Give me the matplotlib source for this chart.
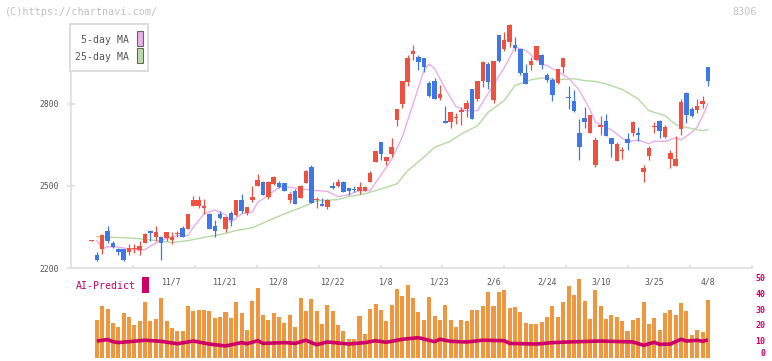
import numpy as np
import matplotlib
matplotlib.use("Agg")
import matplotlib.pyplot as plt
from matplotlib.patches import Rectangle

# daily candles (yen), oldest first
opens = [2298, 2249, 2271, 2337, 2290, 2269, 2269, 2258, 2270, 2264,
         2292, 2337, 2313, 2315, 2309, 2302, 2325, 2347, 2344, 2425,
         2428, 2420, 2399, 2353, 2396, 2343, 2400, 2392, 2450, 2402,
         2447, 2498, 2516, 2459, 2508, 2510, 2510, 2447, 2480, 2455,
         2510, 2571, 2448, 2435, 2422, 2499, 2499, 2513, 2491, 2487,
         2483, 2483, 2514, 2587, 2659, 2590, 2616, 2740, 2799, 2879,
         2981, 2973, 2966, 2875, 2885, 2822, 2739, 2733, 2748, 2769,
         2783, 2856, 2819, 2883, 2947, 2813, 3053, 3000, 3025, 3017,
         3002, 2913, 2941, 2960, 2980, 2907, 2889, 2878, 2933, 2822,
         2810, 2692, 2748, 2693, 2575, 2716, 2739, 2677, 2590, 2627,
         2670, 2692, 2692, 2550, 2611, 2715, 2739, 2678, 2599, 2572,
         2707, 2840, 2783, 2777, 2799, 2933]
highs = [2301, 2258, 2323, 2352, 2297, 2272, 2270, 2286, 2287, 2297,
         2327, 2338, 2352, 2317, 2331, 2333, 2336, 2355, 2399, 2465,
         2465, 2453, 2402, 2374, 2408, 2387, 2410, 2447, 2472, 2423,
         2498, 2542, 2517, 2517, 2537, 2519, 2512, 2478, 2488, 2505,
         2557, 2575, 2459, 2455, 2453, 2516, 2526, 2519, 2491, 2498,
         2513, 2499, 2556, 2626, 2659, 2605, 2677, 2783, 2883, 2978,
         3017, 2977, 2966, 2882, 2895, 2869, 2791, 2772, 2767, 2789,
         2813, 2856, 2885, 2956, 2952, 2955, 3053, 3061, 3091, 3046,
         3002, 2947, 2972, 3012, 2984, 2914, 2893, 2927, 2969, 2866,
         2850, 2743, 2790, 2761, 2678, 2754, 2763, 2677, 2662, 2644,
         2694, 2737, 2717, 2578, 2645, 2735, 2741, 2723, 2632, 2684,
         2817, 2844, 2788, 2816, 2827, 2933]
lows = [2297, 2224, 2251, 2292, 2272, 2246, 2227, 2249, 2254, 2249,
        2291, 2297, 2300, 2231, 2300, 2287, 2315, 2313, 2342, 2425,
        2421, 2398, 2342, 2315, 2378, 2331, 2355, 2391, 2400, 2392,
        2443, 2498, 2466, 2452, 2505, 2492, 2481, 2437, 2433, 2455,
        2510, 2439, 2419, 2425, 2415, 2488, 2495, 2477, 2466, 2477,
        2469, 2480, 2513, 2586, 2593, 2576, 2604, 2718, 2784, 2865,
        2962, 2923, 2916, 2824, 2818, 2815, 2730, 2711, 2727, 2724,
        2752, 2744, 2810, 2862, 2854, 2804, 2952, 2992, 3008, 2992,
        2905, 2874, 2923, 2959, 2929, 2880, 2810, 2874, 2913, 2783,
        2771, 2594, 2711, 2692, 2569, 2688, 2683, 2604, 2590, 2598,
        2633, 2681, 2666, 2516, 2594, 2693, 2674, 2674, 2567, 2572,
        2688, 2729, 2751, 2767, 2784, 2864]
closes = [2300, 2229, 2322, 2300, 2276, 2258, 2229, 2272, 2274, 2280,
          2324, 2327, 2330, 2291, 2330, 2313, 2327, 2315, 2399, 2450,
          2450, 2426, 2342, 2337, 2382, 2386, 2374, 2447, 2410, 2422,
          2461, 2523, 2466, 2516, 2532, 2495, 2483, 2470, 2433, 2498,
          2556, 2439, 2453, 2427, 2447, 2494, 2516, 2477, 2483, 2484,
          2495, 2495, 2547, 2626, 2616, 2604, 2644, 2783, 2883, 2966,
          2992, 2952, 2934, 2830, 2818, 2837, 2731, 2772, 2751, 2777,
          2805, 2744, 2885, 2952, 2880, 2955, 2956, 3035, 3087, 3005,
          2913, 2874, 2956, 3012, 2941, 2886, 2832, 2927, 2969, 2820,
          2773, 2643, 2733, 2761, 2667, 2721, 2683, 2653, 2655, 2632,
          2656, 2733, 2687, 2565, 2640, 2720, 2700, 2717, 2622, 2600,
          2808, 2759, 2757, 2794, 2812, 2883]

# moving averages, sampled off the chart (day index, value)
ma5_day = [1, 2, 3, 5, 7, 9, 10, 13, 15, 16, 18, 19, 21, 23, 25, 26, 28, 30, 31, 32,
           35, 36, 39, 42, 44, 46, 48, 50, 52, 54, 56, 58, 60, 62, 63, 64, 66, 68, 70, 72,
           74, 75, 77, 79, 81, 84, 85, 87, 89, 91, 93, 94, 97, 99, 100, 102, 104, 105, 107, 109,
           110, 112, 113, 114, 115]
ma5_val = [2300, 2270, 2278, 2276, 2270, 2264, 2268, 2303, 2312, 2319, 2319, 2349, 2398, 2412, 2395, 2367, 2398, 2405, 2440, 2453,
           2495, 2498, 2489, 2483, 2480, 2461, 2468, 2483, 2483, 2540, 2597, 2680, 2800, 2921, 2946, 2930, 2855, 2790, 2775, 2775,
           2838, 2870, 2932, 3007, 2996, 2946, 2940, 2918, 2895, 2850, 2780, 2733, 2705, 2675, 2662, 2668, 2654, 2664, 2663, 2676,
           2668, 2696, 2715, 2755, 2800]
ma25_day = [1, 4, 7, 9, 13, 15, 18, 21, 24, 27, 30, 33, 36, 39, 42, 46, 48, 51, 54, 57,
            59, 62, 64, 67, 69, 72, 74, 77, 79, 82, 84, 87, 90, 92, 94, 96, 99, 102, 104, 107,
            109, 111, 114, 115]
ma25_val = [2315, 2312, 2310, 2307, 2298, 2293, 2300, 2312, 2322, 2337, 2347, 2373, 2398, 2420, 2446, 2450, 2461, 2471, 2489, 2508,
            2556, 2605, 2641, 2664, 2690, 2720, 2769, 2812, 2867, 2888, 2895, 2888, 2892, 2885, 2882, 2873, 2853, 2818, 2775, 2757,
            2724, 2714, 2702, 2705]

# lower panel: bars for days 1..115 and the AI-Predict line
bars = [23.7, 32.5, 30.6, 21.8, 19.3, 28.1, 25.6, 20.6, 23.1, 35.0,
        23.1, 24.3, 37.6, 23.1, 18.7, 16.8, 16.8, 32.5, 29.4, 30.0,
        30.0, 29.4, 25.0, 25.6, 28.8, 25.0, 35.0, 28.1, 17.4, 35.7,
        43.8, 26.9, 23.7, 28.1, 25.6, 21.8, 26.9, 19.3, 37.6, 29.4,
        36.9, 29.4, 21.2, 33.2, 29.4, 20.6, 16.8, 11.8, 11.8, 26.2,
        14.9, 30.6, 33.8, 30.0, 23.1, 33.2, 43.2, 38.8, 45.7, 37.6,
        28.8, 23.7, 38.2, 26.2, 23.7, 33.2, 23.7, 19.3, 23.7, 23.1,
        30.0, 30.0, 32.5, 41.3, 32.5, 41.3, 42.6, 31.3, 31.9, 28.8,
        21.8, 21.2, 21.2, 22.5, 25.6, 32.5, 25.6, 35.0, 45.1, 39.4,
        49.5, 35.7, 24.3, 42.6, 32.5, 24.3, 26.9, 25.6, 23.1, 16.8,
        23.7, 25.0, 35.0, 21.2, 25.0, 17.4, 28.1, 30.0, 26.9, 34.4,
        29.4, 14.3, 17.4, 16.2, 36.3]
ai_day = [1, 3, 4, 5, 10, 13, 16, 19, 22, 25, 28, 29, 31, 32, 36, 38, 40, 42, 44, 48,
          51, 53, 55, 58, 61, 64, 65, 67, 70, 73, 77, 78, 83, 86, 89, 95, 101, 103, 105, 106,
          108, 110, 111, 113, 114, 115]
ai_val = [10.5, 11.4, 10.1, 9.5, 11.0, 10.3, 8.8, 10.5, 8.6, 7.4, 9.5, 8.8, 10.7, 9.0, 9.5, 9.0, 11.0, 8.2, 9.9, 8.6,
          9.5, 10.7, 9.7, 11.6, 12.6, 10.1, 11.6, 10.3, 9.9, 11.0, 10.7, 9.0, 8.6, 9.5, 9.9, 10.5, 9.9, 7.8, 9.7, 8.4,
          8.6, 11.6, 10.5, 11.0, 10.3, 11.2]

date_day = [15, 25, 35, 45, 55, 65, 75, 85, 95, 105, 115]
date_labels = ['11/7', '11/21', '12/8', '12/22', '1/8', '1/23', '2/6', '2/24', '3/10', '3/25', '4/8']

RED = '#ef5140'
BLUE = '#3f78e6'
MONO = 'DejaVu Sans Mono'

W, H = 772, 361
def fx(px):
    return px / W
def fy(py):
    return 1 - py / H

fig = plt.figure(figsize=(W / 100, H / 100), dpi=100)
fig.patch.set_facecolor('white')

# pixel geometry of the price panel: day 0 at x=91.5, 5.36 px per day
x_left, x_right = (70.7 - 91.5) / 5.36, (752.3 - 91.5) / 5.36

ax = fig.add_axes([fx(70.7), fy(268), fx(752.3) - fx(70.7), (268 - 24) / H])
ax.set_xlim(x_left, x_right)
ax.set_ylim(2200, 3092)

ax.plot(ma25_day, ma25_val, color='#b4daa4', lw=1.0, zorder=1)
ax.plot(ma5_day, ma5_val, color='#e8aee8', lw=1.0, zorder=1)

o, h, l, c = map(np.array, (opens, highs, lows, closes))
day = np.arange(len(c))
cols = np.where(c >= o, RED, BLUE)
ax.vlines(day, l, h, colors=cols, lw=0.9, zorder=2)
ax.bar(day, np.maximum(np.abs(c - o), 4), bottom=np.minimum(o, c), width=0.85,
       color=cols, lw=0, zorder=3)

for s in ('top', 'right'):
    ax.spines[s].set_visible(False)
for s in ('left', 'bottom'):
    ax.spines[s].set_color('#e0e0e0')
    ax.spines[s].set_linewidth(1.3)
ax.set_yticks([2200, 2500, 2800])
ax.set_yticklabels(['2200', '2500', '2800'], family=MONO)
ax.tick_params(axis='y', direction='inout', length=5.8, width=1.2, color='#dddddd',
               pad=5.5, labelsize=5.8, labelcolor='#555555')
ax.set_xticks(np.linspace(x_left, x_right, 12))
ax.set_xticklabels([])
ax.tick_params(axis='x', direction='in', length=2.5, width=1.2, color='#dddddd')

# lower panel
ax2 = fig.add_axes([fx(70.7), fy(357.7), fx(752.3) - fx(70.7), (357.7 - 278.3) / H])
ax2.set_xlim(x_left, x_right)
ax2.set_ylim(0, 50)
ax2.bar(np.arange(1, len(bars) + 1), bars, width=0.75, color='#f0963e', lw=0)
ax2.plot(ai_day, ai_val, color='#cc0066', lw=2.6, solid_capstyle='butt')
for s in ax2.spines.values():
    s.set_visible(False)
ax2.set_xticks([])
ax2.yaxis.tick_right()
ax2.set_yticks([0, 10, 20, 30, 40, 50])
ax2.set_yticklabels(['0', '10', '20', '30', '40', '50'], family=MONO, weight='bold')
ax2.tick_params(axis='y', length=0, pad=9.2, labelsize=6.0, labelcolor='#cc0066')
for t in ax2.get_yticklabels():
    t.set_horizontalalignment('right')
    t.set_verticalalignment('center')
ax2.get_yticklabels()[0].set_verticalalignment('bottom')
for d, lab in zip(date_day, date_labels):
    ax2.text(d, 47.7, lab, ha='center', va='center', fontsize=5.9, color='#555555', family=MONO)

fig.text(fx(76), fy(286), 'AI-Predict', ha='left', va='center', fontsize=7.1,
         color='#cc0066', family=MONO)
fig.add_artist(Rectangle((fx(142), fy(293)), 7 / W, 16 / H, transform=fig.transFigure,
                         facecolor='#cc0066', edgecolor='none'))

# legend box
fig.add_artist(Rectangle((fx(70), fy(71)), 78 / W, 47 / H, transform=fig.transFigure,
                         facecolor='white', edgecolor='#dddddd', lw=1.4, zorder=5))
fig.text(fx(129), fy(40), '5-day MA', ha='right', va='center', fontsize=7.1,
         color='#555555', family=MONO, zorder=6)
fig.text(fx(129), fy(57), '25-day MA', ha='right', va='center', fontsize=7.1,
         color='#555555', family=MONO, zorder=6)
fig.add_artist(Rectangle((fx(136.5), fy(46)), 6 / W, 15 / H, transform=fig.transFigure,
                         facecolor='#e8b4e8', edgecolor='#666666', lw=0.8, zorder=6))
fig.add_artist(Rectangle((fx(136.5), fy(63)), 6 / W, 15 / H, transform=fig.transFigure,
                         facecolor='#b8dcaa', edgecolor='#666666', lw=0.8, zorder=6))

fig.text(fx(5), fy(12), '(C)https://chartnavi.com/', ha='left', va='center', fontsize=7.3,
         color='#c0c0c0', family=MONO)
fig.text(fx(757), fy(12), '8306', ha='right', va='center', fontsize=7.3,
         color='#c4c4c4', family=MONO)

fig.savefig('out.png', dpi=100)
